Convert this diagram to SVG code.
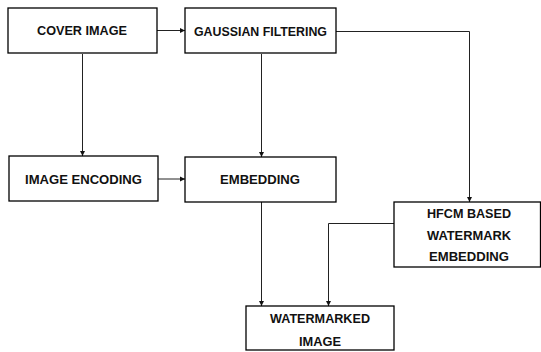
<svg xmlns="http://www.w3.org/2000/svg" width="541" height="352" viewBox="0 0 541 352">
<style>
.box{fill:#fff;stroke:#000;stroke-width:1.3}
.lbl{font-family:"Liberation Sans",Arial,sans-serif;font-weight:bold;font-size:13.5px;fill:#111;text-anchor:middle}
.con{fill:none;stroke:#222;stroke-width:1}
</style>
<defs>
<marker id="ah" markerWidth="6" markerHeight="6" refX="5" refY="3" orient="auto" markerUnits="userSpaceOnUse">
<path d="M0,0.5 L5,3 L0,5.5 Z" fill="#111"/>
</marker>
</defs>
<rect width="541" height="352" fill="#fff"/>
<g id="connectors">
<path class="con" d="M157,30.5 H185" marker-end="url(#ah)"/>
<path class="con" d="M82.5,54 V156" marker-end="url(#ah)"/>
<path class="con" d="M261.5,54 V157" marker-end="url(#ah)"/>
<path class="con" d="M336,31.5 H469.5 V202" marker-end="url(#ah)"/>
<path class="con" d="M158,179 H185" marker-end="url(#ah)"/>
<path class="con" d="M261.5,202 V306" marker-end="url(#ah)"/>
<path class="con" d="M394,223.5 H328.5 V306" marker-end="url(#ah)"/>
</g>
<g id="cover">
<rect class="box" x="8" y="8" width="149" height="45"/>
<text class="lbl" x="82" y="35" textLength="90" lengthAdjust="spacingAndGlyphs">COVER IMAGE</text>
</g>
<g id="gaussian">
<rect class="box" x="185" y="8" width="151" height="45"/>
<text class="lbl" x="260.5" y="36" textLength="133" lengthAdjust="spacingAndGlyphs">GAUSSIAN FILTERING</text>
</g>
<g id="encoding">
<rect class="box" x="9" y="156" width="149" height="45"/>
<text class="lbl" x="83.5" y="184" textLength="117" lengthAdjust="spacingAndGlyphs">IMAGE ENCODING</text>
</g>
<g id="embedding">
<rect class="box" x="185" y="157" width="151" height="45"/>
<text class="lbl" x="260" y="184" textLength="80" lengthAdjust="spacingAndGlyphs">EMBEDDING</text>
</g>
<g id="hfcm">
<rect class="box" x="394" y="202" width="146.5" height="65"/>
<text class="lbl" x="469" y="218" textLength="84" lengthAdjust="spacingAndGlyphs">HFCM BASED</text>
<text class="lbl" x="469" y="240" textLength="84" lengthAdjust="spacingAndGlyphs">WATERMARK</text>
<text class="lbl" x="469" y="261" textLength="80" lengthAdjust="spacingAndGlyphs">EMBEDDING</text>
</g>
<g id="watermarked">
<rect class="box" x="246" y="306" width="148" height="44"/>
<text class="lbl" x="320" y="323" textLength="100" lengthAdjust="spacingAndGlyphs">WATERMARKED</text>
<text class="lbl" x="320" y="346" textLength="42" lengthAdjust="spacingAndGlyphs">IMAGE</text>
</g>
</svg>
